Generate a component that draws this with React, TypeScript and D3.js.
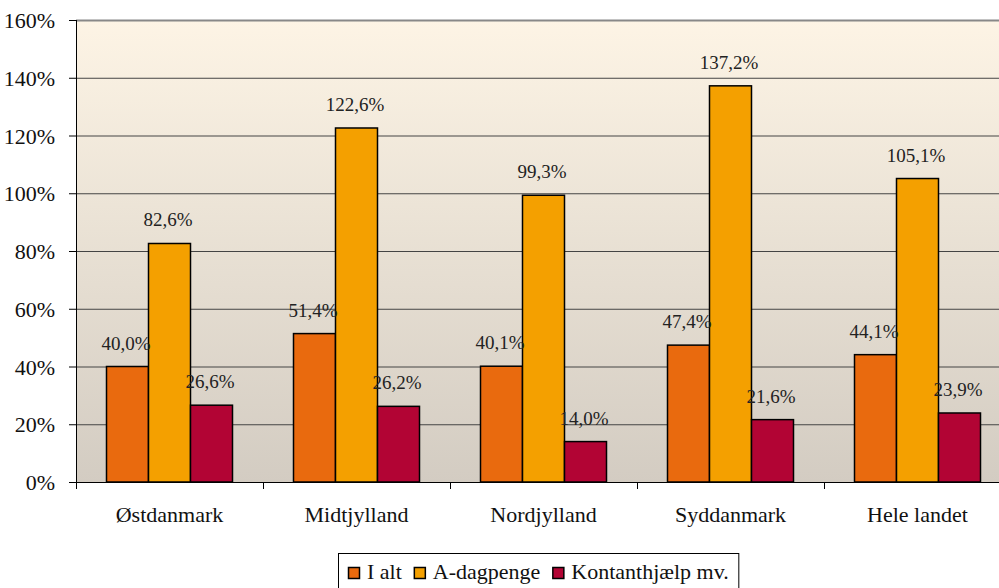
import React, { useEffect, useRef } from "react";
import * as d3 from "d3";

const regions = ["Østdanmark", "Midtjylland", "Nordjylland", "Syddanmark", "Hele landet"];
const seriesNames = ["I alt", "A-dagpenge", "Kontanthjælp mv."];
const iAlt = [40.0, 51.4, 40.1, 47.4, 44.1];
const aDagpenge = [82.6, 122.6, 99.3, 137.2, 105.1];
const kontant = [26.6, 26.2, 14.0, 21.6, 23.9];
const yTicks = [0, 20, 40, 60, 80, 100, 120, 140, 160];
const colors = ["#E96A0E", "#F4A000", "#B20434"];

const W = 999;
const H = 588;
const FONT = "Liberation Serif, Tinos, DejaVu Serif, serif";

const App = () => {
  const ref = useRef<SVGSVGElement | null>(null);

  useEffect(() => {
    const svg = d3.select(ref.current);
    svg.selectAll("*").remove();

    const left = 76;
    const right = 1011; // plot runs past the picture edge
    const top = 20;
    const bottom = 482;

    const x = d3.scaleBand<string>().domain(regions).range([left, right]);
    const inner = d3
      .scaleBand<string>()
      .domain(seriesNames)
      .range([0, 126]);
    const y = d3.scaleLinear().domain([0, 160]).range([bottom, top]);

    const defs = svg.append("defs");
    const grad = defs
      .append("linearGradient")
      .attr("id", "bg")
      .attr("x1", 0)
      .attr("y1", 0)
      .attr("x2", 0)
      .attr("y2", 1);
    grad.append("stop").attr("offset", "0%").attr("stop-color", "#FDF4E5");
    grad.append("stop").attr("offset", "100%").attr("stop-color", "#D3CCC2");

    svg
      .append("rect")
      .attr("x", left)
      .attr("y", top)
      .attr("width", right - left)
      .attr("height", bottom - top)
      .attr("fill", "url(#bg)");

    // gridlines
    svg
      .selectAll(".grid")
      .data(yTicks.filter((t) => t > 0))
      .enter()
      .append("line")
      .attr("x1", left)
      .attr("x2", right)
      .attr("y1", (d) => y(d) + 0.5)
      .attr("y2", (d) => y(d) + 0.5)
      .attr("stroke", (d) => (d === 160 ? "#888" : "#444"))
      .attr("stroke-width", (d) => (d === 160 ? 2 : 1));

    // y axis
    svg
      .append("line")
      .attr("x1", left + 0.5)
      .attr("x2", left + 0.5)
      .attr("y1", top)
      .attr("y2", bottom)
      .attr("stroke", "#000");
    const yg = svg.append("g");
    yTicks.forEach((t) => {
      yg.append("line")
        .attr("x1", left - 7)
        .attr("x2", left)
        .attr("y1", y(t) + 0.5)
        .attr("y2", y(t) + 0.5)
        .attr("stroke", "#000");
      yg.append("text")
        .attr("x", 55)
        .attr("y", y(t) + 8)
        .attr("text-anchor", "end")
        .style("font-family", FONT)
        .attr("font-size", 22)
        .attr("fill", "#111")
        .text(`${t}%`);
    });

    // x axis
    svg
      .append("line")
      .attr("x1", left)
      .attr("x2", right)
      .attr("y1", bottom + 0.5)
      .attr("y2", bottom + 0.5)
      .attr("stroke", "#000");
    regions.forEach((r) => {
      const x0 = x(r)!;
      svg
        .append("line")
        .attr("x1", x0 + 0.5)
        .attr("x2", x0 + 0.5)
        .attr("y1", bottom)
        .attr("y2", bottom + 7)
        .attr("stroke", "#000");
      svg
        .append("text")
        .attr("x", x0 + x.bandwidth() / 2)
        .attr("y", 522)
        .attr("text-anchor", "middle")
        .style("font-family", FONT)
        .attr("font-size", 22)
        .attr("fill", "#111")
        .text(r);
    });

    const series = [iAlt, aDagpenge, kontant];
    const fmt = (v: number) => v.toFixed(1).replace(".", ",") + "%";

    series.forEach((vals, s) => {
      const g = svg.append("g");
      vals.forEach((v, i) => {
        const bx = x(regions[i])! + (x.bandwidth() - 126) / 2 + inner(seriesNames[s])!;
        g.append("rect")
          .attr("x", bx)
          .attr("y", y(v))
          .attr("width", inner.bandwidth())
          .attr("height", bottom - y(v))
          .attr("fill", colors[s])
          .attr("stroke", "#000")
          .attr("stroke-width", 1.5);
      });
    });
    // labels drawn after bars so they sit on top
    series.forEach((vals, s) => {
      vals.forEach((v, i) => {
        const bx = x(regions[i])! + (x.bandwidth() - 126) / 2 + inner(seriesNames[s])!;
        svg
          .append("text")
          .attr("x", bx + inner.bandwidth() / 2 - 1.5)
          .attr("y", y(v) - 17)
          .attr("text-anchor", "middle")
          .style("font-family", FONT)
          .attr("font-size", 19)
          .attr("fill", "#222")
          .text(fmt(v));
      });
    });

    // legend
    const lg = svg.append("g");
    const box = lg
      .append("rect")
      .attr("x", 338.5)
      .attr("y", 553.5)
      .attr("height", 50)
      .attr("fill", "#fff")
      .attr("stroke", "#000");
    let cx = 348;
    seriesNames.forEach((name, s) => {
      lg.append("rect")
        .attr("x", cx + 0.5)
        .attr("y", 567.5)
        .attr("width", 11)
        .attr("height", 11)
        .attr("fill", colors[s])
        .attr("stroke", "#000")
        .attr("stroke-width", 1.5);
      const t = lg
        .append("text")
        .attr("x", cx + 19)
        .attr("y", 579)
        .style("font-family", FONT)
        .attr("font-size", 22)
        .attr("fill", "#111")
        .text(name);
      const w = (t.node() as SVGTextElement).getComputedTextLength();
      cx += 19 + w + 12;
    });
    box.attr("width", cx - 12 + 10 - 338.5);
  }, []);

  return (
    <svg
      ref={ref}
      width={W}
      height={H}
      style={{ position: "absolute", left: 0, top: 0, background: "#fff" }}
    />
  );
};

export default App;
